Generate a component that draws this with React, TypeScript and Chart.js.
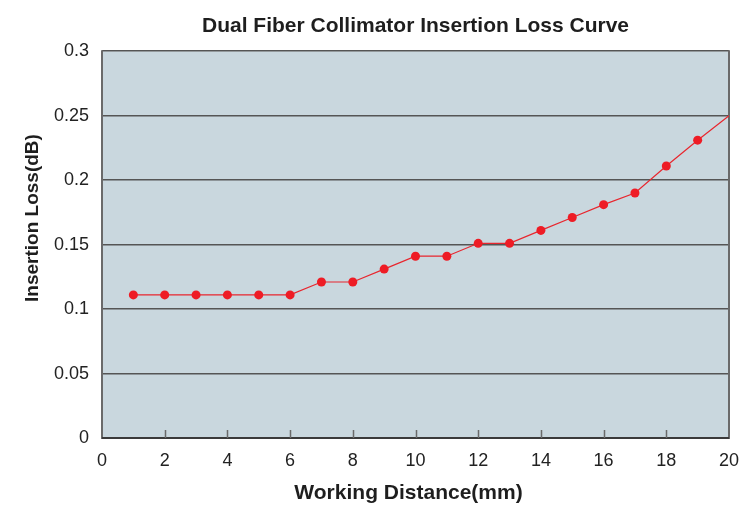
import React, { useEffect, useRef } from "react";
import { Chart, registerables } from "chart.js";

Chart.register(...registerables);

const distances: number[] = [1, 2, 3, 4, 5, 6, 7, 8, 9, 10, 11, 12, 13, 14, 15, 16, 17, 18, 19, 20];
const insertionLoss: number[] = [
  0.111, 0.111, 0.111, 0.111, 0.111, 0.111, 0.121, 0.121, 0.131, 0.141,
  0.141, 0.151, 0.151, 0.161, 0.171, 0.181, 0.19, 0.211, 0.231, 0.25,
];
const titleText = "Dual Fiber Collimator Insertion Loss Curve";
const xTitle = "Working Distance(mm)";
const yTitle = "Insertion Loss(dB)";

const FONT = "'Liberation Sans', Arial, Helvetica, sans-serif";

const framePlugin = {
  id: "frame",
  beforeDraw(chart: any) {
    const { ctx, chartArea } = chart;
    const { left, top, right, bottom } = chartArea;
    ctx.save();
    ctx.fillStyle = "#ffffff";
    ctx.fillRect(0, 0, chart.width, chart.height);
    ctx.fillStyle = "#c9d7de";
    ctx.fillRect(left, top, right - left, bottom - top);
    ctx.restore();
  },
  beforeDatasetsDraw(chart: any) {
    const { ctx, chartArea, scales } = chart;
    const { left, top, right, bottom } = chartArea;
    ctx.save();
    ctx.strokeStyle = "#6a6a6a";
    ctx.lineWidth = 2;
    ctx.beginPath();
    ctx.moveTo(left, top - 1);
    ctx.lineTo(left, bottom + 1);
    ctx.moveTo(right, top - 1);
    ctx.lineTo(right, bottom + 1);
    ctx.stroke();
    ctx.strokeStyle = "#3a3a3a";
    ctx.beginPath();
    ctx.moveTo(left, bottom);
    ctx.lineTo(right, bottom);
    ctx.stroke();
    // inward x tick marks
    const xs = scales.x;
    ctx.strokeStyle = "#6a6a6a";
    ctx.lineWidth = 1.5;
    ctx.beginPath();
    xs.ticks.forEach((t: any) => {
      if (t.value <= xs.min || t.value >= xs.max) return;
      const px = Math.round(xs.getPixelForValue(t.value)) + 0.5;
      ctx.moveTo(px, bottom);
      ctx.lineTo(px, bottom - 8);
    });
    ctx.stroke();
    ctx.restore();
  },
  afterDraw(chart: any) {
    const { ctx, chartArea } = chart;
    ctx.save();
    ctx.fillStyle = "#1e1e1e";
    ctx.textAlign = "center";
    ctx.textBaseline = "middle";
    ctx.font = `bold 21px ${FONT}`;
    ctx.fillText(xTitle, (chartArea.left + chartArea.right) / 2 - 7, 493);
    ctx.font = `bold 19px ${FONT}`;
    ctx.translate(33, 218);
    ctx.rotate(-Math.PI / 2);
    ctx.fillText(yTitle, 0, 0);
    ctx.restore();
  },
};

export default function App() {
  const canvasRef = useRef<HTMLCanvasElement | null>(null);

  useEffect(() => {
    if (!canvasRef.current) return;
    const last = distances.length - 1;
    const chart = new Chart(canvasRef.current, {
      type: "line",
      data: {
        labels: distances,
        datasets: [
          {
            data: distances.map((d, i) => ({ x: d, y: insertionLoss[i] })),
            borderColor: "#e8262e",
            borderWidth: 1.2,
            backgroundColor: "#ee1c25",
            pointBackgroundColor: "#ee1c25",
            pointBorderWidth: 0,
            pointRadius: (ctx: any) => (ctx.dataIndex === last ? 0 : 4.5),
            tension: 0,
            fill: false,
          },
        ],
      },
      options: {
        animation: false,
        responsive: false,
        devicePixelRatio: 1,
        layout: { padding: { left: 0, right: 10, top: 0, bottom: 0 } },
        plugins: {
          legend: { display: false },
          tooltip: { enabled: false },
          title: {
            display: true,
            text: titleText,
            fullSize: false,
            color: "#1e1e1e",
            font: { family: FONT, size: 21, weight: "bold" },
            padding: { top: 14, bottom: 12 },
          },
        },
        scales: {
          x: {
            type: "linear",
            min: 0,
            max: 20,
            afterFit: (s: any) => {
              s.height = 69;
              s.paddingLeft = 0;
              s.paddingRight = 0;
            },
            ticks: {
              stepSize: 2,
              padding: 12,
              color: "#222",
              font: { family: FONT, size: 18 },
              maxRotation: 0,
            },
            grid: { display: false, drawTicks: false },
            border: { display: false },
          },
          y: {
            type: "linear",
            min: 0,
            max: 0.3,
            afterFit: (s: any) => {
              s.width = 102;
              s.paddingTop = 0;
              s.paddingBottom = 0;
            },
            ticks: {
              stepSize: 0.05,
              padding: 13,
              color: "#222",
              font: { family: FONT, size: 18 },
              callback: (v: any) => String(Math.round(Number(v) * 100) / 100),
            },
            grid: { color: "#555555", lineWidth: 1.5, drawTicks: false },
            border: { display: false },
          },
        },
      },
      plugins: [framePlugin],
    } as any);
    return () => chart.destroy();
  }, []);

  return (
    <div style={{ position: "fixed", left: 0, top: 0, width: 739, height: 507, background: "#fff" }}>
      <canvas ref={canvasRef} width={739} height={507} style={{ display: "block" }} />
    </div>
  );
}
